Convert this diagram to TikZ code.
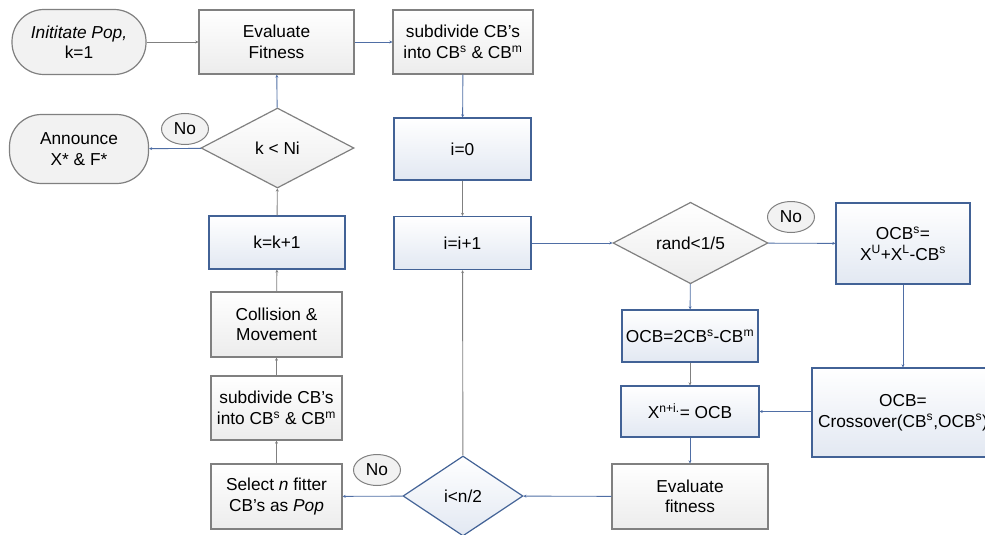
\documentclass[tikz,border=0pt]{standalone}
\usepackage{fontspec}
\setmainfont{Liberation Sans}
\usetikzlibrary{shapes.geometric,arrows.meta}
\definecolor{lineblue}{RGB}{79,110,165}
\definecolor{linegray}{RGB}{128,128,128}
\definecolor{boxblue}{RGB}{66,98,150}
\definecolor{fillblue}{RGB}{226,232,242}
\definecolor{fillgray}{RGB}{236,236,236}
\newcommand{\sups}[1]{\textsuperscript{#1}}

\tikzset{
  graybox/.style={draw=linegray, line width=1.3pt, top color=white, bottom color=fillgray,
    inner sep=0pt, align=center},
  bluebox/.style={draw=boxblue, line width=1.3pt, top color=white, bottom color=fillblue,
    inner sep=0pt, align=center},
  terminal/.style={draw=linegray, line width=1.2pt, fill=fillgray!70, rounded corners=32pt,
    inner sep=0pt, align=center},
  decision/.style={diamond, draw=linegray, line width=1.2pt, top color=white, bottom color=fillgray,
    inner sep=0pt, align=center},
  nolabel/.style={ellipse, draw=linegray, line width=1pt, fill=fillgray!70, inner sep=0pt,
    minimum width=47pt, minimum height=31pt},
  blueline/.style={draw=lineblue, line width=0.9pt, -{Stealth[length=3pt,width=3pt]}},
  grayline/.style={draw=linegray, line width=0.9pt, -{Stealth[length=3pt,width=3pt]}}
}

\begin{document}
\begin{tikzpicture}[x=1pt,y=-1pt,font=\fontsize{17.3}{20.5}\selectfont]
\useasboundingbox (0,0) rectangle (985,535);
\clip (0,0) rectangle (985,535);

% left column
\node [terminal, minimum width=134pt, minimum height=65pt] (init) at (79,42) {\textit{Inititate Pop,}\\k=1};
\node [terminal, minimum width=139pt, minimum height=69pt] (announce) at (79,149) {Announce\\X* \& F*};
\node [graybox, minimum width=155pt, minimum height=64pt] (eval1) at (276.5,42) {Evaluate\\Fitness};
\node [decision, draw=linegray, minimum width=153pt, minimum height=80pt] (kNi) at (277.5,148) {k {<} Ni};
\node [nolabel] (no1) at (185,129) {No};
\node [bluebox, minimum width=136pt, minimum height=53pt] (kk1) at (277,242.5) {k=k+1};
\node [graybox, minimum width=131pt, minimum height=65pt] (coll) at (276.5,324.5) {Collision \&\\Movement};
\node [graybox, minimum width=131pt, minimum height=64pt] (sub2) at (276.5,408) {subdivide CB's\\into CB\sups{s} \& CB\sups{m}};
\node [graybox, minimum width=131pt, minimum height=65pt] (sel) at (276.5,496.5) {Select \textit{n} fitter\\CB's as \textit{Pop}};
\node [nolabel] (no2) at (377,470) {No};

% middle column
\node [graybox, minimum width=140pt, minimum height=64pt] (sub1) at (463,42) {subdivide CB's\\into CB\sups{s} \& CB\sups{m}};
\node [bluebox, minimum width=137pt, minimum height=62pt] (i0) at (462.5,149) {i=0};
\node [bluebox, minimum width=137pt, minimum height=53pt] (ii1) at (462.5,243) {i=i+1};
\node [decision, draw=boxblue, bottom color=fillblue, minimum width=120pt, minimum height=80pt] (ilt) at (463,496) {i{<}n/2};

% right columns
\node [decision, minimum width=155pt, minimum height=80pt] (rand) at (690.5,243) {rand{<}1/5};
\node [nolabel] (no3) at (791,217) {No};
\node [bluebox, minimum width=134pt, minimum height=81pt] (ocbs) at (903,243.5) {OCB\sups{s}=\\X\sups{U}+X\sups{L}-CB\sups{s}};
\node [bluebox, minimum width=136pt, minimum height=52pt] (ocb2) at (690,336) {OCB=2CB\sups{s}-CB\sups{m}};
\node [bluebox, minimum width=138pt, minimum height=51pt] (xn) at (690,411.5) {X\sups{n+i.}= OCB};
\node [bluebox, minimum width=182pt, minimum height=89pt] (cross) at (903,412.5) {OCB=\\Crossover(CB\sups{s},OCB\sups{s})};
\node [graybox, minimum width=156pt, minimum height=65pt] (evalf) at (690,496.5) {Evaluate\\fitness};

% connectors
\draw [grayline] (init) -- (eval1);
\draw [blueline] (eval1) -- (sub1);
\draw [blueline] (sub1) -- (i0);
\draw [grayline] (i0) -- (ii1);
\draw [blueline] (ii1) -- (rand);
\draw [blueline] (rand) -- (ocbs);
\draw [blueline] (rand) -- (ocb2);
\draw [blueline] (ocbs) -- (cross);
\draw [grayline] (ocb2) -- (xn);
\draw [blueline] (cross.west |- xn) -- (xn);
\draw [blueline] (xn) -- (evalf);
\draw [blueline] (evalf) -- (ilt);
\draw [grayline] (ilt) -- (ii1);
\draw [blueline] (ilt) -- (sel);
\draw [grayline] (sel) -- (sub2);
\draw [grayline] (sub2) -- (coll);
\draw [grayline] (coll) -- (kk1);
\draw [grayline] (kk1) -- (kNi);
\draw [blueline] (kNi) -- (eval1);
\draw [blueline] (kNi) -- (announce);
\end{tikzpicture}
\end{document}
